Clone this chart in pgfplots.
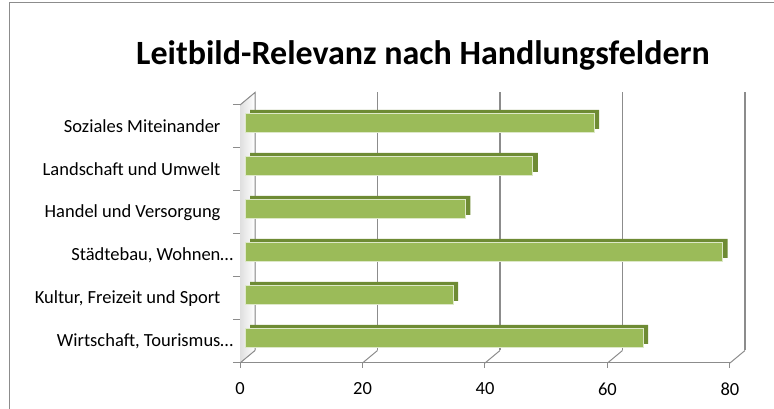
\documentclass[border=0pt]{standalone}
\usepackage{fontspec}
\setmainfont{Carlito}
\usepackage{pgfplots}
\pgfplotsset{compat=1.18}
\definecolor{barface}{HTML}{9BBB59}
\definecolor{bardark}{HTML}{6E8B34}
\definecolor{barhl}{HTML}{DDE8C8}
\definecolor{gridc}{HTML}{8C8C8C}
\begin{document}
\begin{tikzpicture}[x=1pt,y=1pt]
\useasboundingbox (0,0) rectangle (774,409);
\draw[gridc, line width=1pt] (9,0) -- (9,406) -- (774,406);
\node[font=\fontsize{34}{40}\selectfont\bfseries] at (423,354) {Leitbild-Relevanz nach Handlungsfeldern};
\begin{axis}[at={(240pt,46pt)}, anchor=south west, scale only axis,
  width=490pt, height=258pt,
  xmin=0, xmax=80, ymin=-0.5, ymax=5.5,
  xtick={0,20,...,80}, ytick={0,...,5},
  yticklabels={Wirtschaft{,} Tourismus\rlap{…}, {Kultur, Freizeit und Sport}, Städtebau{,} Wohnen\rlap{…}, Handel und Versorgung, Landschaft und Umwelt, Soziales Miteinander},
  minor ytick={-0.5,0.5,...,5.5},
  tick align=outside, major tick length=5pt, minor tick length=7pt,
  major y tick style={draw=none},
  minor y tick style={gridc, line width=1pt},
  major x tick style={gridc, line width=1pt},
  axis x line*=bottom, axis y line*=left,
  axis line style={gridc, line width=1pt},
  tick label style={font=\fontsize{18.5}{22}\selectfont},
  yticklabel style={xshift=-11pt},
  xticklabel style={yshift=-11pt},
  /pgf/number format/assume math mode=true,
  clip=false,
]
% left wall
\fill[left color=gray!25, right color=white] (axis cs:0,-0.5) -- (axis cs:0,5.5) -- ([shift={(15pt,12.5pt)}]axis cs:0,5.5) -- ([shift={(15pt,12.5pt)}]axis cs:0,-0.5) -- cycle;
\draw[gridc, line width=1pt] (axis cs:0,5.5) -- ([shift={(15pt,12.5pt)}]axis cs:0,5.5) -- ([shift={(15pt,12.5pt)}]axis cs:0,-0.5);
\draw[gridc, line width=1pt] (axis cs:0,-0.5) -- ([shift={(15pt,12.5pt)}]axis cs:0,-0.5);
\pgfplotsinvokeforeach{20,40,60,80}{
  \draw[gridc, line width=1.2pt] ([shift={(15pt,12.5pt)}]axis cs:#1,-0.5) -- ([shift={(15pt,12.5pt)}]axis cs:#1,5.5);
  \draw[gridc, line width=1pt] (axis cs:#1,-0.5) -- ([shift={(15pt,12.5pt)}]axis cs:#1,-0.5);
}
\addplot[xbar, bar shift=0pt, bar width=19pt, fill=bardark, draw=none, xshift=10pt, yshift=7pt]
  coordinates {(65,0) (34,1) (78,2) (36,3) (47,4) (57,5)};
\addplot[xbar, bar shift=0pt, bar width=19pt, fill=barface, draw=barhl, line width=0.8pt, xshift=5pt, yshift=3.5pt]
  coordinates {(65,0) (34,1) (78,2) (36,3) (47,4) (57,5)};
\end{axis}
\end{tikzpicture}
\end{document}
